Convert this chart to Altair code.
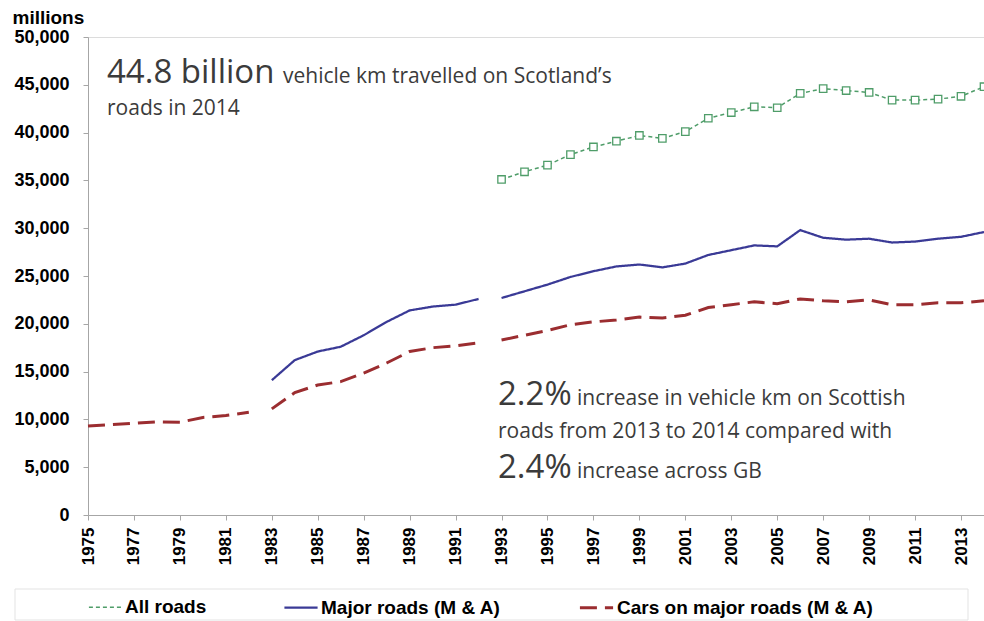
import altair as alt
import pandas as pd

years = list(range(1975, 2015))

cars = [9300, 9450, 9600, 9750, 9700, 10200, 10400, 10750,
        11100, 12800, 13600, 13950, 14850, 15900, 17100, 17500, 17700, 18000,
        18300, 18800, 19300, 19900, 20200, 20400, 20700, 20600, 20900, 21700,
        22000, 22300, 22100, 22600, 22400, 22300, 22500, 22000, 22000, 22200,
        22200, 22400]

major = [None] * 8 + [
    14100, 16200, 17100, 17600, 18800, 20200, 21400, 21800, 22000, 22600,
    22700, 23400, 24100, 24900, 25500, 26000, 26200, 25900, 26300, 27200,
    27700, 28200, 28100, 29800, 29000, 28800, 28900, 28500, 28600, 28900,
    29100, 29600]

all_roads = [None] * 18 + [
    35100, 35900, 36600, 37700, 38500, 39100, 39700, 39400, 40100, 41500,
    42100, 42700, 42600, 44100, 44600, 44400, 44200, 43400, 43400, 43500,
    43800, 44800]

names = ["All roads", "Major roads (M & A)", "Cars on major roads (M & A)"]
colors = ["#4f9d69", "#3a3a96", "#9b2d30"]
x_ticks = list(range(1975, 2014, 2))
y_ticks = list(range(0, 50001, 5000))
break_years = [1982, 1992]  # series breaks in the published data

rows = []
for name, vals in zip(names, [all_roads, major, cars]):
    for yr, v in zip(years, vals):
        if v is None:
            continue
        seg = sum(1 for b in break_years if yr > b)
        rows.append({"year": yr, "value": v, "series": name, "seg": f"{name}-{seg}"})
df = pd.DataFrame(rows)

legend = alt.Legend(
    orient="none", legendX=0, legendY=552, direction="horizontal", title=None,
    symbolType="stroke", symbolSize=1100, symbolStrokeWidth=3,
    labelFont="Liberation Sans", labelFontWeight="bold", labelFontSize=19,
    labelColor="#000000", columnPadding=72, labelOffset=2, labelLimit=400,
)

x = alt.X("year:Q", scale=alt.Scale(domain=[1975, 2014], nice=False),
          axis=alt.Axis(values=x_ticks, format="d", labelAngle=-90, title=None,
                        grid=False, labelFont="Liberation Sans", labelFontWeight="bold",
                        labelFontSize=17, labelColor="#000", labelPadding=7,
                        tickSize=5, tickColor="#a6a6a6", domainColor="#a6a6a6"))
y = alt.Y("value:Q", scale=alt.Scale(domain=[0, 50000], nice=False),
          axis=alt.Axis(values=y_ticks, format=",.0f", title="millions", titleAngle=0,
                        titleX=-76, titleY=-14, titleAlign="left", titleBaseline="alphabetic",
                        titleFont="Liberation Sans", titleFontWeight="bold", titleFontSize=19,
                        titleColor="#000", grid=False, labelFont="Liberation Sans",
                        labelFontWeight="bold", labelFontSize=18, labelColor="#000",
                        labelPadding=14, tickSize=5, tickColor="#a6a6a6",
                        domainColor="#a6a6a6"))

lines = alt.Chart(df).mark_line(strokeCap="butt").encode(
    x=x, y=y,
    color=alt.Color("series:N", scale=alt.Scale(domain=names, range=colors), legend=legend),
    strokeDash=alt.StrokeDash("series:N", scale=alt.Scale(domain=names, range=[[4, 3], [1, 0], [17, 8]]), legend=legend),
    strokeWidth=alt.StrokeWidth("series:N", scale=alt.Scale(domain=names, range=[1.5, 3, 3]), legend=None),
    detail="seg:N",
)

points = alt.Chart(df).transform_filter(alt.datum.series == "All roads").mark_point(
    shape="square", filled=True, fill="white", stroke=colors[0], strokeWidth=1.3,
    size=55, opacity=1).encode(x=x, y=y)


def label(text, px, py, size):
    return alt.Chart(pd.DataFrame({"t": [text]})).mark_text(
        align="left", baseline="alphabetic", font="Open Sans", fontSize=size,
        color="#3b3b3b").encode(text="t:N", x=alt.value(px), y=alt.value(py))


texts = [
    label("44.8 billion", 19, 46, 33),
    label("vehicle km travelled on Scotland\u2019s", 195, 46, 21),
    label("roads in 2014", 19, 78, 21),
    label("2.2%", 410, 368, 33),
    label("increase in vehicle km on Scottish", 489, 368, 21),
    label("roads from 2013 to 2014 compared with", 410, 401, 21),
    label("2.4%", 410, 441, 33),
    label("increase across GB", 489, 441, 21),
]

box = alt.Chart(pd.DataFrame({"a": [0]})).mark_rect(
    fill="white", fillOpacity=0, stroke="#e3e3e3", strokeWidth=1).encode(
    x=alt.value(-73), x2=alt.value(880), y=alt.value(552), y2=alt.value(583))

chart = alt.layer(box, *texts, lines, points).properties(
    width=896, height=478,
    autosize=alt.AutoSizeParams(type="none"),
    padding={"left": 88, "top": 37, "right": 0, "bottom": 106},
    background="white",
).configure_view(stroke="#dcdcdc")

chart.save("out.html", embed_options={"renderer": "svg", "actions": False})
